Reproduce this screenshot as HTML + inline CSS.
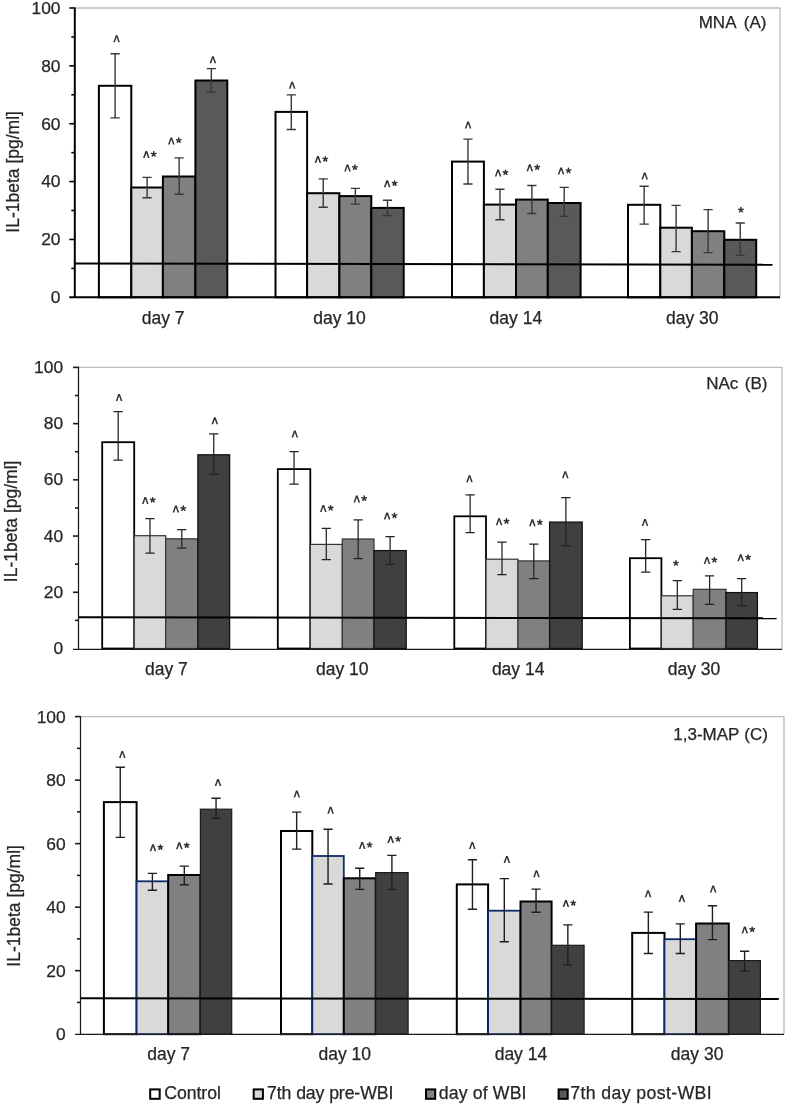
<!DOCTYPE html>
<html><head><meta charset="utf-8"><title>IL-1beta charts</title><style>
html,body{margin:0;padding:0;background:#fff;}
svg{display:block;font-family:"Liberation Sans", sans-serif;}
svg{will-change:transform;}
text{stroke:#262626;stroke-width:0.25px;}
</style></head><body>
<svg width="786" height="1106" viewBox="0 0 786 1106">
<rect width="786" height="1106" fill="#fff"/>
<path d="M74.8 8H780V297.3" fill="none" stroke="#bdbdbd" stroke-width="1.3"/>
<rect x="98.9" y="85.8" width="32.4" height="211.5" fill="#ffffff" stroke="#000" stroke-width="2"/>
<rect x="131.3" y="187.5" width="31.6" height="109.8" fill="#d9d9d9" stroke="#000" stroke-width="2"/>
<rect x="162.9" y="176.5" width="32.5" height="120.8" fill="#808080" stroke="#000" stroke-width="2"/>
<rect x="195.4" y="80.5" width="31.9" height="216.8" fill="#595959" stroke="#000" stroke-width="2"/>
<rect x="275.5" y="111.9" width="31.6" height="185.4" fill="#ffffff" stroke="#000" stroke-width="2"/>
<rect x="307.1" y="193.2" width="32.3" height="104.1" fill="#d9d9d9" stroke="#000" stroke-width="2"/>
<rect x="339.4" y="196.1" width="31.9" height="101.2" fill="#808080" stroke="#000" stroke-width="2"/>
<rect x="371.3" y="207.9" width="32.4" height="89.4" fill="#595959" stroke="#000" stroke-width="2"/>
<rect x="452" y="161.6" width="31.9" height="135.7" fill="#ffffff" stroke="#000" stroke-width="2"/>
<rect x="483.9" y="204.6" width="32.1" height="92.7" fill="#d9d9d9" stroke="#000" stroke-width="2"/>
<rect x="516" y="199.6" width="31.8" height="97.7" fill="#808080" stroke="#000" stroke-width="2"/>
<rect x="547.8" y="203" width="32.8" height="94.3" fill="#595959" stroke="#000" stroke-width="2"/>
<rect x="628" y="204.8" width="32.3" height="92.5" fill="#ffffff" stroke="#000" stroke-width="2"/>
<rect x="660.3" y="227.7" width="31.6" height="69.6" fill="#d9d9d9" stroke="#000" stroke-width="2"/>
<rect x="691.9" y="231.2" width="32.4" height="66.1" fill="#808080" stroke="#000" stroke-width="2"/>
<rect x="724.3" y="239.8" width="31.9" height="57.5" fill="#595959" stroke="#000" stroke-width="2"/>
<line x1="74.8" y1="263.4" x2="772.5" y2="264.8" stroke="#000" stroke-width="2"/>
<path d="M115.1 53.7V117.9M110.5 53.7H119.7M110.5 117.9H119.7" stroke="#383838" stroke-width="1.4" fill="none"/>
<polygon points="113.3,42.2 115.75,35.2 117.45,35.2 119.9,42.2 118.3,42.2 116.6,37.3 114.9,42.2" fill="#333"/>
<path d="M147.1 177.4V197.8M142.5 177.4H151.7M142.5 197.8H151.7" stroke="#383838" stroke-width="1.4" fill="none"/>
<polygon points="143,158.1 145.45,151.1 147.15,151.1 149.6,158.1 148,158.1 146.3,153.2 144.6,158.1" fill="#333"/>
<path d="M153.7 154.1L153.7 151.75M153.7 154.1L155.93 153.37M153.7 154.1L155.08 156M153.7 154.1L152.32 156M153.7 154.1L151.47 153.37" stroke="#333" stroke-width="1.5" stroke-linecap="round" fill="none"/>
<path d="M179.15 157.9V194.2M174.55 157.9H183.75M174.55 194.2H183.75" stroke="#383838" stroke-width="1.4" fill="none"/>
<polygon points="168,144.4 170.45,137.4 172.15,137.4 174.6,144.4 173,144.4 171.3,139.5 169.6,144.4" fill="#333"/>
<path d="M178.7 140.4L178.7 138.05M178.7 140.4L180.93 139.67M178.7 140.4L180.08 142.3M178.7 140.4L177.32 142.3M178.7 140.4L176.47 139.67" stroke="#333" stroke-width="1.5" stroke-linecap="round" fill="none"/>
<path d="M211.35 68.6V92.1M206.75 68.6H215.95M206.75 92.1H215.95" stroke="#383838" stroke-width="1.4" fill="none"/>
<polygon points="209.6,63.2 212.05,56.2 213.75,56.2 216.2,63.2 214.6,63.2 212.9,58.3 211.2,63.2" fill="#333"/>
<path d="M291.3 94.9V129.5M286.7 94.9H295.9M286.7 129.5H295.9" stroke="#383838" stroke-width="1.4" fill="none"/>
<polygon points="288.9,88.7 291.35,81.7 293.05,81.7 295.5,88.7 293.9,88.7 292.2,83.8 290.5,88.7" fill="#333"/>
<path d="M323.25 178.9V207.3M318.65 178.9H327.85M318.65 207.3H327.85" stroke="#383838" stroke-width="1.4" fill="none"/>
<polygon points="314.6,163.1 317.05,156.1 318.75,156.1 321.2,163.1 319.6,163.1 317.9,158.2 316.2,163.1" fill="#333"/>
<path d="M325.3 159.1L325.3 156.75M325.3 159.1L327.53 158.37M325.3 159.1L326.68 161M325.3 159.1L323.92 161M325.3 159.1L323.07 158.37" stroke="#333" stroke-width="1.5" stroke-linecap="round" fill="none"/>
<path d="M355.35 188.4V204.1M350.75 188.4H359.95M350.75 204.1H359.95" stroke="#383838" stroke-width="1.4" fill="none"/>
<polygon points="344.2,171.4 346.65,164.4 348.35,164.4 350.8,171.4 349.2,171.4 347.5,166.5 345.8,171.4" fill="#333"/>
<path d="M354.9 167.4L354.9 165.05M354.9 167.4L357.13 166.67M354.9 167.4L356.28 169.3M354.9 167.4L353.52 169.3M354.9 167.4L352.67 166.67" stroke="#333" stroke-width="1.5" stroke-linecap="round" fill="none"/>
<path d="M387.5 200.3V215.5M382.9 200.3H392.1M382.9 215.5H392.1" stroke="#383838" stroke-width="1.4" fill="none"/>
<polygon points="383.9,187.3 386.35,180.3 388.05,180.3 390.5,187.3 388.9,187.3 387.2,182.4 385.5,187.3" fill="#333"/>
<path d="M394.6 183.3L394.6 180.95M394.6 183.3L396.83 182.57M394.6 183.3L395.98 185.2M394.6 183.3L393.22 185.2M394.6 183.3L392.37 182.57" stroke="#333" stroke-width="1.5" stroke-linecap="round" fill="none"/>
<path d="M467.95 139.1V184M463.35 139.1H472.55M463.35 184H472.55" stroke="#383838" stroke-width="1.4" fill="none"/>
<polygon points="464.8,128.5 467.25,121.5 468.95,121.5 471.4,128.5 469.8,128.5 468.1,123.6 466.4,128.5" fill="#333"/>
<path d="M499.95 189.3V219.8M495.35 189.3H504.55M495.35 219.8H504.55" stroke="#383838" stroke-width="1.4" fill="none"/>
<polygon points="494.8,176.5 497.25,169.5 498.95,169.5 501.4,176.5 499.8,176.5 498.1,171.6 496.4,176.5" fill="#333"/>
<path d="M505.5 172.5L505.5 170.15M505.5 172.5L507.73 171.77M505.5 172.5L506.88 174.4M505.5 172.5L504.12 174.4M505.5 172.5L503.27 171.77" stroke="#333" stroke-width="1.5" stroke-linecap="round" fill="none"/>
<path d="M531.9 185.5V213.5M527.3 185.5H536.5M527.3 213.5H536.5" stroke="#383838" stroke-width="1.4" fill="none"/>
<polygon points="526.5,171.3 528.95,164.3 530.65,164.3 533.1,171.3 531.5,171.3 529.8,166.4 528.1,171.3" fill="#333"/>
<path d="M537.2 167.3L537.2 164.95M537.2 167.3L539.43 166.57M537.2 167.3L538.58 169.2M537.2 167.3L535.82 169.2M537.2 167.3L534.97 166.57" stroke="#333" stroke-width="1.5" stroke-linecap="round" fill="none"/>
<path d="M564.2 187.4V216.4M559.6 187.4H568.8M559.6 216.4H568.8" stroke="#383838" stroke-width="1.4" fill="none"/>
<polygon points="557.8,174.6 560.25,167.6 561.95,167.6 564.4,174.6 562.8,174.6 561.1,169.7 559.4,174.6" fill="#333"/>
<path d="M568.5 170.6L568.5 168.25M568.5 170.6L570.73 169.87M568.5 170.6L569.88 172.5M568.5 170.6L567.12 172.5M568.5 170.6L566.27 169.87" stroke="#333" stroke-width="1.5" stroke-linecap="round" fill="none"/>
<path d="M644.15 186.3V224.1M639.55 186.3H648.75M639.55 224.1H648.75" stroke="#383838" stroke-width="1.4" fill="none"/>
<polygon points="641.4,179.5 643.85,172.5 645.55,172.5 648,179.5 646.4,179.5 644.7,174.6 643,179.5" fill="#333"/>
<path d="M676.1 205.4V251.6M671.5 205.4H680.7M671.5 251.6H680.7" stroke="#383838" stroke-width="1.4" fill="none"/>
<path d="M708.1 209.6V252.6M703.5 209.6H712.7M703.5 252.6H712.7" stroke="#383838" stroke-width="1.4" fill="none"/>
<path d="M740.25 223V255.4M735.65 223H744.85M735.65 255.4H744.85" stroke="#383838" stroke-width="1.4" fill="none"/>
<path d="M740.9 209.9L740.9 207.55M740.9 209.9L743.13 209.17M740.9 209.9L742.28 211.8M740.9 209.9L739.52 211.8M740.9 209.9L738.67 209.17" stroke="#333" stroke-width="1.5" stroke-linecap="round" fill="none"/>
<line x1="74.8" y1="7.4" x2="74.8" y2="297.9" stroke="#000" stroke-width="2"/>
<line x1="69.3" y1="297.3" x2="780" y2="297.3" stroke="#000" stroke-width="2"/>
<text x="60.5" y="303.1" font-size="17.4" text-anchor="end" fill="#262626">0</text>
<line x1="71.3" y1="268.37" x2="74.8" y2="268.37" stroke="#000" stroke-width="1.6"/>
<line x1="69.3" y1="239.44" x2="74.8" y2="239.44" stroke="#000" stroke-width="1.6"/>
<text x="60.5" y="245.24" font-size="17.4" text-anchor="end" fill="#262626">20</text>
<line x1="71.3" y1="210.51" x2="74.8" y2="210.51" stroke="#000" stroke-width="1.6"/>
<line x1="69.3" y1="181.58" x2="74.8" y2="181.58" stroke="#000" stroke-width="1.6"/>
<text x="60.5" y="187.38" font-size="17.4" text-anchor="end" fill="#262626">40</text>
<line x1="71.3" y1="152.65" x2="74.8" y2="152.65" stroke="#000" stroke-width="1.6"/>
<line x1="69.3" y1="123.72" x2="74.8" y2="123.72" stroke="#000" stroke-width="1.6"/>
<text x="60.5" y="129.52" font-size="17.4" text-anchor="end" fill="#262626">60</text>
<line x1="71.3" y1="94.79" x2="74.8" y2="94.79" stroke="#000" stroke-width="1.6"/>
<line x1="69.3" y1="65.86" x2="74.8" y2="65.86" stroke="#000" stroke-width="1.6"/>
<text x="60.5" y="71.66" font-size="17.4" text-anchor="end" fill="#262626">80</text>
<line x1="71.3" y1="36.93" x2="74.8" y2="36.93" stroke="#000" stroke-width="1.6"/>
<line x1="69.3" y1="8" x2="74.8" y2="8" stroke="#000" stroke-width="1.6"/>
<text x="60.5" y="13.8" font-size="17.4" text-anchor="end" fill="#262626">100</text>
<text x="163.1" y="323.9" font-size="17.5" text-anchor="middle" fill="#262626">day 7</text>
<text x="339.48" y="323.9" font-size="17.5" text-anchor="middle" fill="#262626">day 10</text>
<text x="515.86" y="323.9" font-size="17.5" text-anchor="middle" fill="#262626">day 14</text>
<text x="692.24" y="323.9" font-size="17.5" text-anchor="middle" fill="#262626">day 30</text>
<text x="698.71" y="27.5" font-size="17" fill="#262626">MNA</text>
<text x="743.85" y="27.5" font-size="17" fill="#262626">(A)</text>
<text transform="translate(19.1 171.9) rotate(-90)" font-size="17.5" text-anchor="middle" fill="#262626">IL-1beta [pg/ml]</text>
<path d="M78.5 367.4H782V649.45" fill="none" stroke="#bdbdbd" stroke-width="1.3"/>
<rect x="102.2" y="442.2" width="32" height="206.3" fill="#ffffff" stroke="#000" stroke-width="1.8"/>
<rect x="134.2" y="535.7" width="31.5" height="112.8" fill="#d9d9d9" stroke="#333" stroke-width="1.2"/>
<rect x="165.7" y="538.8" width="32.2" height="109.7" fill="#808080" stroke="#333" stroke-width="1.2"/>
<rect x="197.9" y="454.8" width="31.7" height="193.7" fill="#404040" stroke="#111" stroke-width="1.3"/>
<rect x="277.8" y="469.1" width="32.5" height="179.4" fill="#ffffff" stroke="#000" stroke-width="1.8"/>
<rect x="310.3" y="544.4" width="32" height="104.1" fill="#d9d9d9" stroke="#333" stroke-width="1.2"/>
<rect x="342.3" y="539" width="31.7" height="109.5" fill="#808080" stroke="#333" stroke-width="1.2"/>
<rect x="374" y="550.6" width="32.2" height="97.9" fill="#404040" stroke="#111" stroke-width="1.3"/>
<rect x="454.3" y="516.3" width="31.7" height="132.2" fill="#ffffff" stroke="#000" stroke-width="1.8"/>
<rect x="486" y="559.2" width="32" height="89.3" fill="#d9d9d9" stroke="#333" stroke-width="1.2"/>
<rect x="518" y="560.9" width="31.6" height="87.6" fill="#808080" stroke="#333" stroke-width="1.2"/>
<rect x="549.6" y="522.1" width="32.6" height="126.4" fill="#404040" stroke="#111" stroke-width="1.3"/>
<rect x="629.9" y="558.2" width="31.5" height="90.3" fill="#ffffff" stroke="#000" stroke-width="1.8"/>
<rect x="661.4" y="595.8" width="31.8" height="52.7" fill="#d9d9d9" stroke="#333" stroke-width="1.2"/>
<rect x="693.2" y="589.3" width="32.8" height="59.2" fill="#808080" stroke="#333" stroke-width="1.2"/>
<rect x="726" y="592.6" width="31.4" height="55.9" fill="#404040" stroke="#111" stroke-width="1.3"/>
<line x1="78.5" y1="617.3" x2="776.7" y2="618.3" stroke="#000" stroke-width="2"/>
<path d="M118.2 411.5V460M113.6 411.5H122.8M113.6 460H122.8" stroke="#222" stroke-width="1.25" fill="none"/>
<polygon points="115.8,400.9 118.25,393.9 119.95,393.9 122.4,400.9 120.8,400.9 119.1,396 117.4,400.9" fill="#333"/>
<path d="M149.95 518.7V553.1M145.35 518.7H154.55M145.35 553.1H154.55" stroke="#222" stroke-width="1.25" fill="none"/>
<polygon points="142,504 144.45,497 146.15,497 148.6,504 147,504 145.3,499.1 143.6,504" fill="#333"/>
<path d="M152.7 500L152.7 497.65M152.7 500L154.93 499.27M152.7 500L154.08 501.9M152.7 500L151.32 501.9M152.7 500L150.47 499.27" stroke="#333" stroke-width="1.5" stroke-linecap="round" fill="none"/>
<path d="M181.8 529.6V548.1M177.2 529.6H186.4M177.2 548.1H186.4" stroke="#222" stroke-width="1.25" fill="none"/>
<polygon points="172.6,512.4 175.05,505.4 176.75,505.4 179.2,512.4 177.6,512.4 175.9,507.5 174.2,512.4" fill="#333"/>
<path d="M183.3 508.4L183.3 506.05M183.3 508.4L185.53 507.67M183.3 508.4L184.68 510.3M183.3 508.4L181.92 510.3M183.3 508.4L181.07 507.67" stroke="#333" stroke-width="1.5" stroke-linecap="round" fill="none"/>
<path d="M213.75 433.8V474.4M209.15 433.8H218.35M209.15 474.4H218.35" stroke="#222" stroke-width="1.25" fill="none"/>
<polygon points="211.5,424.3 213.95,417.3 215.65,417.3 218.1,424.3 216.5,424.3 214.8,419.4 213.1,424.3" fill="#333"/>
<path d="M294.05 451.5V484M289.45 451.5H298.65M289.45 484H298.65" stroke="#222" stroke-width="1.25" fill="none"/>
<polygon points="291.5,437.4 293.95,430.4 295.65,430.4 298.1,437.4 296.5,437.4 294.8,432.5 293.1,437.4" fill="#333"/>
<path d="M326.3 528.4V559.7M321.7 528.4H330.9M321.7 559.7H330.9" stroke="#222" stroke-width="1.25" fill="none"/>
<polygon points="320,512 322.45,505 324.15,505 326.6,512 325,512 323.3,507.1 321.6,512" fill="#333"/>
<path d="M330.7 508L330.7 505.65M330.7 508L332.93 507.27M330.7 508L332.08 509.9M330.7 508L329.32 509.9M330.7 508L328.47 507.27" stroke="#333" stroke-width="1.5" stroke-linecap="round" fill="none"/>
<path d="M358.15 519.8V558.7M353.55 519.8H362.75M353.55 558.7H362.75" stroke="#222" stroke-width="1.25" fill="none"/>
<polygon points="353.5,502.4 355.95,495.4 357.65,495.4 360.1,502.4 358.5,502.4 356.8,497.5 355.1,502.4" fill="#333"/>
<path d="M364.2 498.4L364.2 496.05M364.2 498.4L366.43 497.67M364.2 498.4L365.58 500.3M364.2 498.4L362.82 500.3M364.2 498.4L361.97 497.67" stroke="#333" stroke-width="1.5" stroke-linecap="round" fill="none"/>
<path d="M390.1 536.7V564.3M385.5 536.7H394.7M385.5 564.3H394.7" stroke="#222" stroke-width="1.25" fill="none"/>
<polygon points="383.8,519.6 386.25,512.6 387.95,512.6 390.4,519.6 388.8,519.6 387.1,514.7 385.4,519.6" fill="#333"/>
<path d="M394.5 515.6L394.5 513.25M394.5 515.6L396.73 514.87M394.5 515.6L395.88 517.5M394.5 515.6L393.12 517.5M394.5 515.6L392.27 514.87" stroke="#333" stroke-width="1.5" stroke-linecap="round" fill="none"/>
<path d="M470.15 494.8V532.6M465.55 494.8H474.75M465.55 532.6H474.75" stroke="#222" stroke-width="1.25" fill="none"/>
<polygon points="466.2,482.2 468.65,475.2 470.35,475.2 472.8,482.2 471.2,482.2 469.5,477.3 467.8,482.2" fill="#333"/>
<path d="M502 542.1V574.5M497.4 542.1H506.6M497.4 574.5H506.6" stroke="#222" stroke-width="1.25" fill="none"/>
<polygon points="495.8,525.2 498.25,518.2 499.95,518.2 502.4,525.2 500.8,525.2 499.1,520.3 497.4,525.2" fill="#333"/>
<path d="M506.5 521.2L506.5 518.85M506.5 521.2L508.73 520.47M506.5 521.2L507.88 523.1M506.5 521.2L505.12 523.1M506.5 521.2L504.27 520.47" stroke="#333" stroke-width="1.5" stroke-linecap="round" fill="none"/>
<path d="M533.8 544V578.7M529.2 544H538.4M529.2 578.7H538.4" stroke="#222" stroke-width="1.25" fill="none"/>
<polygon points="529.1,526.3 531.55,519.3 533.25,519.3 535.7,526.3 534.1,526.3 532.4,521.4 530.7,526.3" fill="#333"/>
<path d="M539.8 522.3L539.8 519.95M539.8 522.3L542.03 521.57M539.8 522.3L541.18 524.2M539.8 522.3L538.42 524.2M539.8 522.3L537.57 521.57" stroke="#333" stroke-width="1.5" stroke-linecap="round" fill="none"/>
<path d="M565.9 497.6V545.9M561.3 497.6H570.5M561.3 545.9H570.5" stroke="#222" stroke-width="1.25" fill="none"/>
<polygon points="562,478.2 564.45,471.2 566.15,471.2 568.6,478.2 567,478.2 565.3,473.3 563.6,478.2" fill="#333"/>
<path d="M645.65 539.7V572.1M641.05 539.7H650.25M641.05 572.1H650.25" stroke="#222" stroke-width="1.25" fill="none"/>
<polygon points="641.7,525.9 644.15,518.9 645.85,518.9 648.3,525.9 646.7,525.9 645,521 643.3,525.9" fill="#333"/>
<path d="M677.3 580.7V609.4M672.7 580.7H681.9M672.7 609.4H681.9" stroke="#222" stroke-width="1.25" fill="none"/>
<path d="M675.9 563.1L675.9 560.75M675.9 563.1L678.13 562.37M675.9 563.1L677.28 565M675.9 563.1L674.52 565M675.9 563.1L673.67 562.37" stroke="#333" stroke-width="1.5" stroke-linecap="round" fill="none"/>
<path d="M709.6 575.8V604.4M705 575.8H714.2M705 604.4H714.2" stroke="#222" stroke-width="1.25" fill="none"/>
<polygon points="703.7,563.9 706.15,556.9 707.85,556.9 710.3,563.9 708.7,563.9 707,559 705.3,563.9" fill="#333"/>
<path d="M714.4 559.9L714.4 557.55M714.4 559.9L716.63 559.17M714.4 559.9L715.78 561.8M714.4 559.9L713.02 561.8M714.4 559.9L712.17 559.17" stroke="#333" stroke-width="1.5" stroke-linecap="round" fill="none"/>
<path d="M741.7 578.6V605.9M737.1 578.6H746.3M737.1 605.9H746.3" stroke="#222" stroke-width="1.25" fill="none"/>
<polygon points="737.4,561.3 739.85,554.3 741.55,554.3 744,561.3 742.4,561.3 740.7,556.4 739,561.3" fill="#333"/>
<path d="M748.1 557.3L748.1 554.95M748.1 557.3L750.33 556.57M748.1 557.3L749.48 559.2M748.1 557.3L746.72 559.2M748.1 557.3L745.87 556.57" stroke="#333" stroke-width="1.5" stroke-linecap="round" fill="none"/>
<line x1="78.5" y1="366.8" x2="78.5" y2="650.05" stroke="#1a1a1a" stroke-width="1.25"/>
<line x1="73" y1="649.45" x2="782" y2="649.45" stroke="#1a1a1a" stroke-width="1.25"/>
<text x="63.1" y="654.1" font-size="17.4" text-anchor="end" fill="#262626">0</text>
<line x1="75" y1="620.39" x2="78.5" y2="620.39" stroke="#1a1a1a" stroke-width="1.6"/>
<line x1="73" y1="592.28" x2="78.5" y2="592.28" stroke="#1a1a1a" stroke-width="1.6"/>
<text x="63.1" y="597.88" font-size="17.4" text-anchor="end" fill="#262626">20</text>
<line x1="75" y1="564.17" x2="78.5" y2="564.17" stroke="#1a1a1a" stroke-width="1.6"/>
<line x1="73" y1="536.06" x2="78.5" y2="536.06" stroke="#1a1a1a" stroke-width="1.6"/>
<text x="63.1" y="541.66" font-size="17.4" text-anchor="end" fill="#262626">40</text>
<line x1="75" y1="507.95" x2="78.5" y2="507.95" stroke="#1a1a1a" stroke-width="1.6"/>
<line x1="73" y1="479.84" x2="78.5" y2="479.84" stroke="#1a1a1a" stroke-width="1.6"/>
<text x="63.1" y="485.44" font-size="17.4" text-anchor="end" fill="#262626">60</text>
<line x1="75" y1="451.73" x2="78.5" y2="451.73" stroke="#1a1a1a" stroke-width="1.6"/>
<line x1="73" y1="423.62" x2="78.5" y2="423.62" stroke="#1a1a1a" stroke-width="1.6"/>
<text x="63.1" y="429.22" font-size="17.4" text-anchor="end" fill="#262626">80</text>
<line x1="75" y1="395.51" x2="78.5" y2="395.51" stroke="#1a1a1a" stroke-width="1.6"/>
<line x1="73" y1="367.4" x2="78.5" y2="367.4" stroke="#1a1a1a" stroke-width="1.6"/>
<text x="63.1" y="373" font-size="17.4" text-anchor="end" fill="#262626">100</text>
<text x="166.35" y="675.2" font-size="17.5" text-anchor="middle" fill="#262626">day 7</text>
<text x="342.25" y="675.2" font-size="17.5" text-anchor="middle" fill="#262626">day 10</text>
<text x="518.15" y="675.2" font-size="17.5" text-anchor="middle" fill="#262626">day 14</text>
<text x="694.05" y="675.2" font-size="17.5" text-anchor="middle" fill="#262626">day 30</text>
<text x="706.21" y="388.6" font-size="17" fill="#262626">NAc</text>
<text x="744.75" y="388.6" font-size="17" fill="#262626">(B)</text>
<text transform="translate(16.9 521.4) rotate(-90)" font-size="17.5" text-anchor="middle" fill="#262626">IL-1beta [pg/ml]</text>
<path d="M80.5 716.6H784V1034.45" fill="none" stroke="#bdbdbd" stroke-width="1.3"/>
<rect x="103.9" y="802.1" width="32.7" height="232.1" fill="#ffffff" stroke="#000" stroke-width="2"/>
<rect x="136.6" y="881.3" width="31.6" height="152.9" fill="#d9d9d9" stroke="#0f2a6b" stroke-width="1.8"/>
<rect x="168.2" y="875" width="32.2" height="159.2" fill="#808080" stroke="#000" stroke-width="2"/>
<rect x="200.4" y="809.2" width="31.3" height="225" fill="#404040" stroke="#1a1a1a" stroke-width="1.2"/>
<rect x="281" y="831" width="31.3" height="203.2" fill="#ffffff" stroke="#000" stroke-width="2"/>
<rect x="312.3" y="856" width="31.5" height="178.2" fill="#d9d9d9" stroke="#0f2a6b" stroke-width="1.8"/>
<rect x="343.8" y="878.3" width="31.9" height="155.9" fill="#808080" stroke="#000" stroke-width="2"/>
<rect x="375.7" y="872.6" width="32.4" height="161.6" fill="#404040" stroke="#1a1a1a" stroke-width="1.2"/>
<rect x="456.8" y="884.4" width="31.3" height="149.8" fill="#ffffff" stroke="#000" stroke-width="2"/>
<rect x="488.1" y="910.7" width="32.4" height="123.5" fill="#d9d9d9" stroke="#0f2a6b" stroke-width="1.8"/>
<rect x="520.5" y="901.5" width="31.1" height="132.7" fill="#808080" stroke="#000" stroke-width="2"/>
<rect x="551.6" y="945.3" width="32.5" height="88.9" fill="#404040" stroke="#1a1a1a" stroke-width="1.2"/>
<rect x="632.2" y="932.9" width="32.3" height="101.3" fill="#ffffff" stroke="#000" stroke-width="2"/>
<rect x="664.5" y="939.2" width="31.6" height="95" fill="#d9d9d9" stroke="#0f2a6b" stroke-width="1.8"/>
<rect x="696.1" y="923.5" width="32.7" height="110.7" fill="#808080" stroke="#000" stroke-width="2"/>
<rect x="728.8" y="960.6" width="31.6" height="73.6" fill="#404040" stroke="#1a1a1a" stroke-width="1.2"/>
<line x1="80.4" y1="998.2" x2="778.8" y2="999.1" stroke="#000" stroke-width="2"/>
<path d="M120.25 767.2V837.4M115.65 767.2H124.85M115.65 837.4H124.85" stroke="#1e1e1e" stroke-width="1.4" fill="none"/>
<polygon points="119,757.9 121.45,750.9 123.15,750.9 125.6,757.9 124,757.9 122.3,753 120.6,757.9" fill="#333"/>
<path d="M152.4 873.4V890.2M147.8 873.4H157M147.8 890.2H157" stroke="#1e1e1e" stroke-width="1.4" fill="none"/>
<polygon points="149.7,851.3 152.15,844.3 153.85,844.3 156.3,851.3 154.7,851.3 153,846.4 151.3,851.3" fill="#333"/>
<path d="M160.4 847.3L160.4 844.95M160.4 847.3L162.63 846.57M160.4 847.3L161.78 849.2M160.4 847.3L159.02 849.2M160.4 847.3L158.17 846.57" stroke="#333" stroke-width="1.5" stroke-linecap="round" fill="none"/>
<path d="M184.3 866.1V884.7M179.7 866.1H188.9M179.7 884.7H188.9" stroke="#1e1e1e" stroke-width="1.4" fill="none"/>
<polygon points="176,849.3 178.45,842.3 180.15,842.3 182.6,849.3 181,849.3 179.3,844.4 177.6,849.3" fill="#333"/>
<path d="M186.7 845.3L186.7 842.95M186.7 845.3L188.93 844.57M186.7 845.3L188.08 847.2M186.7 845.3L185.32 847.2M186.7 845.3L184.47 844.57" stroke="#333" stroke-width="1.5" stroke-linecap="round" fill="none"/>
<path d="M216.05 798.3V818.4M211.45 798.3H220.65M211.45 818.4H220.65" stroke="#1e1e1e" stroke-width="1.4" fill="none"/>
<polygon points="214.7,785.9 217.15,778.9 218.85,778.9 221.3,785.9 219.7,785.9 218,781 216.3,785.9" fill="#333"/>
<path d="M296.65 812.1V849.1M292.05 812.1H301.25M292.05 849.1H301.25" stroke="#1e1e1e" stroke-width="1.4" fill="none"/>
<polygon points="293.5,797.6 295.95,790.6 297.65,790.6 300.1,797.6 298.5,797.6 296.8,792.7 295.1,797.6" fill="#333"/>
<path d="M328.05 829.3V884M323.45 829.3H332.65M323.45 884H332.65" stroke="#1e1e1e" stroke-width="1.4" fill="none"/>
<polygon points="327.3,813.7 329.75,806.7 331.45,806.7 333.9,813.7 332.3,813.7 330.6,808.8 328.9,813.7" fill="#333"/>
<path d="M359.75 868.2V889.4M355.15 868.2H364.35M355.15 889.4H364.35" stroke="#1e1e1e" stroke-width="1.4" fill="none"/>
<polygon points="358.9,848.9 361.35,841.9 363.05,841.9 365.5,848.9 363.9,848.9 362.2,844 360.5,848.9" fill="#333"/>
<path d="M369.6 844.9L369.6 842.55M369.6 844.9L371.83 844.17M369.6 844.9L370.98 846.8M369.6 844.9L368.22 846.8M369.6 844.9L367.37 844.17" stroke="#333" stroke-width="1.5" stroke-linecap="round" fill="none"/>
<path d="M391.9 855.4V889.4M387.3 855.4H396.5M387.3 889.4H396.5" stroke="#1e1e1e" stroke-width="1.4" fill="none"/>
<polygon points="387.4,843.1 389.85,836.1 391.55,836.1 394,843.1 392.4,843.1 390.7,838.2 389,843.1" fill="#333"/>
<path d="M398.1 839.1L398.1 836.75M398.1 839.1L400.33 838.37M398.1 839.1L399.48 841M398.1 839.1L396.72 841M398.1 839.1L395.87 838.37" stroke="#333" stroke-width="1.5" stroke-linecap="round" fill="none"/>
<path d="M472.45 859.7V909.2M467.85 859.7H477.05M467.85 909.2H477.05" stroke="#1e1e1e" stroke-width="1.4" fill="none"/>
<polygon points="469,849 471.45,842 473.15,842 475.6,849 474,849 472.3,844.1 470.6,849" fill="#333"/>
<path d="M504.3 878.6V941.8M499.7 878.6H508.9M499.7 941.8H508.9" stroke="#1e1e1e" stroke-width="1.4" fill="none"/>
<polygon points="503.6,863 506.05,856 507.75,856 510.2,863 508.6,863 506.9,858.1 505.2,863" fill="#333"/>
<path d="M536.05 889.1V912.2M531.45 889.1H540.65M531.45 912.2H540.65" stroke="#1e1e1e" stroke-width="1.4" fill="none"/>
<polygon points="533.2,877.2 535.65,870.2 537.35,870.2 539.8,877.2 538.2,877.2 536.5,872.3 534.8,877.2" fill="#333"/>
<path d="M567.85 924.9V964.9M563.25 924.9H572.45M563.25 964.9H572.45" stroke="#1e1e1e" stroke-width="1.4" fill="none"/>
<polygon points="562.6,907.1 565.05,900.1 566.75,900.1 569.2,907.1 567.6,907.1 565.9,902.2 564.2,907.1" fill="#333"/>
<path d="M573.3 903.1L573.3 900.75M573.3 903.1L575.53 902.37M573.3 903.1L574.68 905M573.3 903.1L571.92 905M573.3 903.1L571.07 902.37" stroke="#333" stroke-width="1.5" stroke-linecap="round" fill="none"/>
<path d="M648.35 912.1V953.5M643.75 912.1H652.95M643.75 953.5H652.95" stroke="#1e1e1e" stroke-width="1.4" fill="none"/>
<polygon points="644.8,897.2 647.25,890.2 648.95,890.2 651.4,897.2 649.8,897.2 648.1,892.3 646.4,897.2" fill="#333"/>
<path d="M680.3 923.9V953.5M675.7 923.9H684.9M675.7 953.5H684.9" stroke="#1e1e1e" stroke-width="1.4" fill="none"/>
<polygon points="678.6,902.1 681.05,895.1 682.75,895.1 685.2,902.1 683.6,902.1 681.9,897.2 680.2,902.1" fill="#333"/>
<path d="M712.45 905.8V939.6M707.85 905.8H717.05M707.85 939.6H717.05" stroke="#1e1e1e" stroke-width="1.4" fill="none"/>
<polygon points="709.9,892.5 712.35,885.5 714.05,885.5 716.5,892.5 714.9,892.5 713.2,887.6 711.5,892.5" fill="#333"/>
<path d="M744.6 951.2V971.1M740 951.2H749.2M740 971.1H749.2" stroke="#1e1e1e" stroke-width="1.4" fill="none"/>
<polygon points="741.5,933.5 743.95,926.5 745.65,926.5 748.1,933.5 746.5,933.5 744.8,928.6 743.1,933.5" fill="#333"/>
<path d="M752.2 929.5L752.2 927.15M752.2 929.5L754.43 928.77M752.2 929.5L753.58 931.4M752.2 929.5L750.82 931.4M752.2 929.5L749.97 928.77" stroke="#333" stroke-width="1.5" stroke-linecap="round" fill="none"/>
<line x1="80.5" y1="716" x2="80.5" y2="1035.05" stroke="#1a1a1a" stroke-width="1.25"/>
<line x1="75" y1="1034.45" x2="784" y2="1034.45" stroke="#1a1a1a" stroke-width="1.25"/>
<text x="65.7" y="1040.4" font-size="17.4" text-anchor="end" fill="#262626">0</text>
<line x1="77" y1="1002.44" x2="80.5" y2="1002.44" stroke="#1a1a1a" stroke-width="1.6"/>
<line x1="75" y1="970.68" x2="80.5" y2="970.68" stroke="#1a1a1a" stroke-width="1.6"/>
<text x="65.7" y="976.88" font-size="17.4" text-anchor="end" fill="#262626">20</text>
<line x1="77" y1="938.92" x2="80.5" y2="938.92" stroke="#1a1a1a" stroke-width="1.6"/>
<line x1="75" y1="907.16" x2="80.5" y2="907.16" stroke="#1a1a1a" stroke-width="1.6"/>
<text x="65.7" y="913.36" font-size="17.4" text-anchor="end" fill="#262626">40</text>
<line x1="77" y1="875.4" x2="80.5" y2="875.4" stroke="#1a1a1a" stroke-width="1.6"/>
<line x1="75" y1="843.64" x2="80.5" y2="843.64" stroke="#1a1a1a" stroke-width="1.6"/>
<text x="65.7" y="849.84" font-size="17.4" text-anchor="end" fill="#262626">60</text>
<line x1="77" y1="811.88" x2="80.5" y2="811.88" stroke="#1a1a1a" stroke-width="1.6"/>
<line x1="75" y1="780.12" x2="80.5" y2="780.12" stroke="#1a1a1a" stroke-width="1.6"/>
<text x="65.7" y="786.32" font-size="17.4" text-anchor="end" fill="#262626">80</text>
<line x1="77" y1="748.36" x2="80.5" y2="748.36" stroke="#1a1a1a" stroke-width="1.6"/>
<line x1="75" y1="716.6" x2="80.5" y2="716.6" stroke="#1a1a1a" stroke-width="1.6"/>
<text x="65.7" y="722.8" font-size="17.4" text-anchor="end" fill="#262626">100</text>
<text x="168.6" y="1060.3" font-size="17.5" text-anchor="middle" fill="#262626">day 7</text>
<text x="344.77" y="1060.3" font-size="17.5" text-anchor="middle" fill="#262626">day 10</text>
<text x="520.94" y="1060.3" font-size="17.5" text-anchor="middle" fill="#262626">day 14</text>
<text x="697.11" y="1060.3" font-size="17.5" text-anchor="middle" fill="#262626">day 30</text>
<text x="673.31" y="740.3" font-size="17" fill="#262626">1,3-MAP</text>
<text x="744.25" y="740.3" font-size="17" fill="#262626">(C)</text>
<text transform="translate(19.6 905.9) rotate(-90)" font-size="17.5" text-anchor="middle" fill="#262626">IL-1beta [pg/ml]</text>
<rect x="150.2" y="1089.4" width="9.5" height="9.4" fill="#ffffff" stroke="#000" stroke-width="2"/>
<text x="164.2" y="1098.7" font-size="17.7" letter-spacing="-0.05" fill="#262626">Control</text>
<rect x="253.7" y="1089.4" width="9.2" height="9.4" fill="#d9d9d9" stroke="#000" stroke-width="2"/>
<text x="267.09" y="1098.7" font-size="17.7" letter-spacing="-0.11" fill="#262626">7th day pre-WBI</text>
<rect x="426" y="1089.4" width="9.2" height="9.4" fill="#808080" stroke="#000" stroke-width="2"/>
<text x="438.86" y="1098.7" font-size="17.7" letter-spacing="0.13" fill="#262626">day of WBI</text>
<rect x="558.6" y="1089.4" width="9.1" height="9.4" fill="#595959" stroke="#000" stroke-width="2"/>
<text x="570.29" y="1098.7" font-size="17.7" letter-spacing="0.38" fill="#262626">7th day post-WBI</text>
</svg>
</body></html>
